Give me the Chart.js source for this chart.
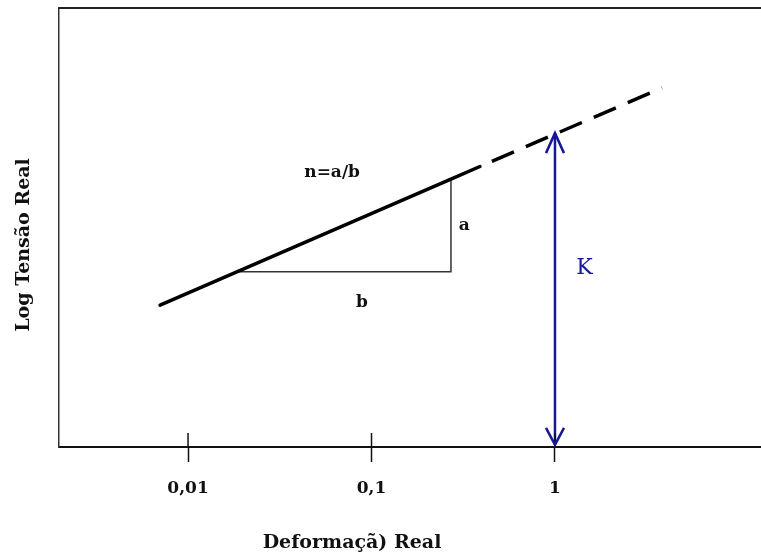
<!DOCTYPE html>
<html>
<head>
<meta charset="utf-8">
<script src="https://cdn.jsdelivr.net/npm/chart.js@4"></script>
<style>
  body { margin: 0; background: #fff; }
  #wrap { width: 761px; height: 558px; }
</style>
</head>
<body>
<div id="wrap"><canvas id="grafico" width="761" height="558"></canvas></div>
<script>
// valores (eixo x logarítmico, eixo y = log da tensão, unidades arbitrárias)
const xTicks = [0.01, 0.1, 1];
const xTickLabels = ['0,01', '0,1', '1'];
const retaSolida = [{ x: 0.00704, y: 3.23 }, { x: 0.271, y: 6.10 }, { x: 0.39, y: 6.39 }];
const retaTracejada = [{ x: 0.39, y: 6.39 }, { x: 3.83, y: 8.18 }];
const triangulo = [{ x: 0.0180, y: 3.99 }, { x: 0.271, y: 3.99 }, { x: 0.271, y: 6.10 }];
const setaK = [{ x: 1, y: 7.15 }, { x: 1, y: 0.05 }];
const rotulos = [
    { texto: 'n=a/b', x: 0.061, y: 6.24, cor: '#111', fonte: 'bold 17px "DejaVu Serif"' },
    { texto: 'a', x: 0.32, y: 5.04, cor: '#111', fonte: 'bold 17px "DejaVu Serif"' },
    { texto: 'b', x: 0.0887, y: 3.3, cor: '#111', fonte: 'bold 17px "DejaVu Serif"' },
    { texto: 'K', x: 1.45, y: 4.08, cor: '#17179a', fonte: '22px "DejaVu Serif"' }
];
const tituloX = 'Deformaçã) Real';
const tituloY = 'Log Tensão Real';

const AZUL = '#17179a';

// desenha moldura superior, marcas acima do eixo, pontas da seta, textos e títulos
const extras = {
    id: 'extras',
    afterDatasetsDraw(chart) {
        const ctx = chart.ctx;
        const sx = chart.scales.x, sy = chart.scales.y;
        const area = chart.chartArea;
        ctx.save();
        // linha superior
        ctx.strokeStyle = '#222';
        ctx.lineWidth = 2;
        ctx.beginPath();
        ctx.moveTo(area.left, area.top);
        ctx.lineTo(chart.width, area.top);
        ctx.stroke();
        // marcas acima do eixo x
        ctx.strokeStyle = '#111';
        ctx.lineWidth = 1.5;
        xTicks.forEach(v => {
            const px = sx.getPixelForValue(v);
            ctx.beginPath();
            ctx.moveTo(px, area.bottom);
            ctx.lineTo(px, area.bottom - 14);
            ctx.stroke();
        });
        // pontas da seta K
        ctx.strokeStyle = AZUL;
        ctx.lineWidth = 2.5;
        const ax = sx.getPixelForValue(setaK[0].x);
        const yTopo = sy.getPixelForValue(setaK[0].y);
        const yBase = sy.getPixelForValue(setaK[1].y);
        ctx.beginPath();
        ctx.moveTo(ax - 9, yTopo + 20);
        ctx.lineTo(ax, yTopo);
        ctx.lineTo(ax + 9, yTopo + 20);
        ctx.moveTo(ax - 9, yBase - 17);
        ctx.lineTo(ax, yBase);
        ctx.lineTo(ax + 9, yBase - 17);
        ctx.stroke();
        // textos
        ctx.textAlign = 'center';
        ctx.textBaseline = 'middle';
        rotulos.forEach(r => {
            ctx.font = r.fonte;
            ctx.fillStyle = r.cor;
            ctx.fillText(r.texto, sx.getPixelForValue(r.x), sy.getPixelForValue(r.y));
        });
        // títulos dos eixos
        ctx.fillStyle = '#111';
        ctx.font = 'bold 19px "DejaVu Serif"';
        ctx.fillText(tituloX, 352, 543);
        ctx.translate(24, 245);
        ctx.rotate(-Math.PI / 2);
        ctx.fillText(tituloY, 0, 0);
        ctx.restore();
    }
};

const ctx = document.getElementById('grafico').getContext('2d');
const chart = new Chart(ctx, {
    type: 'scatter',
    data: {
        datasets: [
            {
                data: retaSolida,
                showLine: true,
                borderColor: '#000',
                borderWidth: 3.5,
                pointRadius: 0,
                borderCapStyle: 'round'
            },
            {
                data: retaTracejada,
                showLine: true,
                borderColor: '#000',
                borderWidth: 3.5,
                borderDash: [24, 13],
                borderDashOffset: 24,
                pointRadius: 0
            },
            {
                data: triangulo,
                showLine: true,
                borderColor: '#333',
                borderWidth: 1.5,
                pointRadius: 0
            },
            {
                data: setaK,
                showLine: true,
                borderColor: AZUL,
                borderWidth: 2.5,
                pointRadius: 0
            }
        ]
    },
    options: {
        responsive: false,
        animation: false,
        layout: { padding: { left: 59, top: 8, right: 0, bottom: 0 } },
        plugins: {
            legend: { display: false },
            tooltip: { enabled: false }
        },
        scales: {
            x: {
                type: 'logarithmic',
                min: 0.00198,
                max: 13.27,
                afterBuildTicks: scale => {
                    scale.ticks = xTicks.map(v => ({ value: v }));
                },
                afterFit: scale => { scale.height = 111; },
                ticks: {
                    autoSkip: false,
                    maxRotation: 0,
                    padding: 16,
                    color: '#111',
                    font: { family: 'DejaVu Serif', size: 17, weight: 'bold' },
                    callback: value => {
                        const i = xTicks.indexOf(value);
                        return i >= 0 ? xTickLabels[i] : '';
                    }
                },
                grid: {
                    display: true,
                    drawOnChartArea: false,
                    drawTicks: true,
                    tickLength: 15,
                    tickWidth: 1.5,
                    tickColor: '#111'
                },
                border: { display: true, color: '#111', width: 2 }
            },
            y: {
                type: 'linear',
                min: 0,
                max: 10,
                afterFit: scale => { scale.width = 0; },
                ticks: { display: false },
                grid: { display: false, drawTicks: false },
                border: { display: true, color: '#333', width: 1.5 }
            }
        }
    },
    plugins: [extras]
});
</script>
</body>
</html>
